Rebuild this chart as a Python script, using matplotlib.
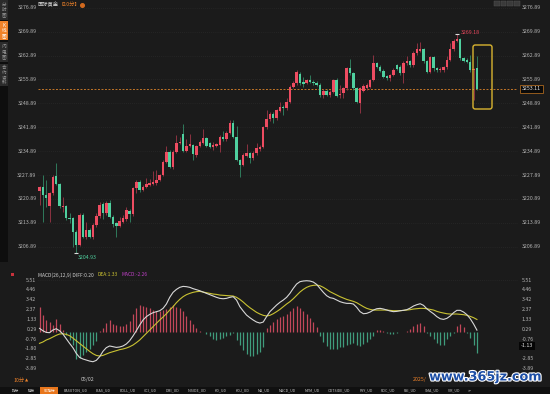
import numpy as np
import matplotlib.pyplot as plt
from matplotlib.patches import Rectangle, FancyBboxPatch
import matplotlib.patheffects as pe

plt.rcParams['font.family'] = ['Noto Sans CJK SC', 'DejaVu Sans']

# ---------- data (10-minute candles) ----------
opens = [3223.3, 3224.4, 3222.0, 3218.8, 3222.5, 3227.6, 3225.2, 3218.4, 3218.8, 3215.4,
         3215.2, 3211.3, 3207.4, 3216.2, 3209.6, 3211.8, 3209.6, 3213.2, 3215.9, 3219.4,
         3216.8, 3219.8, 3215.7, 3213.7, 3212.96, 3214.0, 3214.9, 3217.4, 3216.5, 3224.0,
         3225.9, 3223.5, 3224.5, 3224.96, 3225.3, 3225.45, 3226.4, 3227.9, 3231.8, 3234.7,
         3230.1, 3234.7, 3237.2, 3239.9, 3235.0, 3236.4, 3236.7, 3233.7, 3236.4, 3237.2,
         3238.6, 3237.2, 3236.2, 3236.4, 3236.7, 3239.1, 3238.3, 3240.3, 3243.0, 3239.1,
         3232.3, 3230.8, 3233.5, 3234.2, 3232.8, 3234.2, 3235.4, 3236.2, 3241.9, 3244.2,
         3245.8, 3244.5, 3246.7, 3247.9, 3247.4, 3249.4, 3253.8, 3254.7, 3257.5, 3255.2,
         3254.9, 3255.7, 3255.2, 3254.9, 3254.3, 3251.3, 3252.6, 3251.3, 3252.3, 3255.7,
         3251.2, 3251.8, 3253.3, 3259.1, 3257.7, 3253.3, 3248.9, 3252.6, 3253.3, 3253.8,
         3255.7, 3260.6, 3259.6, 3258.4, 3256.9, 3256.2, 3257.2, 3260.0, 3259.6, 3257.7,
         3260.6, 3261.3, 3260.0, 3263.5, 3264.3, 3264.7, 3261.2, 3258.2, 3262.4, 3259.1,
         3258.5, 3258.6, 3259.4, 3261.6, 3264.7, 3267.2, 3267.6, 3262.1, 3261.7, 3261.1,
         3258.5, 3259.1]
highs = [3224.6, 3227.9, 3226.4, 3223.0, 3227.9, 3231.3, 3225.6, 3221.5, 3219.1, 3216.7,
         3215.6, 3211.8, 3216.7, 3216.9, 3214.2, 3212.3, 3213.7, 3216.9, 3220.1, 3220.0,
         3220.3, 3220.6, 3216.2, 3214.0, 3215.7, 3216.2, 3218.6, 3217.8, 3224.4, 3226.3,
         3226.3, 3225.0, 3226.9, 3226.6, 3229.2, 3229.4, 3228.3, 3232.2, 3236.4, 3235.1,
         3235.1, 3239.6, 3239.1, 3242.8, 3238.3, 3239.9, 3237.1, 3236.8, 3238.0, 3241.3,
         3239.0, 3237.6, 3237.7, 3237.3, 3239.5, 3240.9, 3240.7, 3244.0, 3244.0, 3242.2,
         3232.7, 3234.2, 3237.0, 3234.6, 3234.8, 3237.2, 3236.6, 3242.3, 3246.9, 3246.2,
         3246.2, 3247.3, 3249.4, 3248.3, 3250.3, 3254.2, 3255.3, 3258.6, 3258.2, 3256.7,
         3256.1, 3257.2, 3255.6, 3255.3, 3254.7, 3253.0, 3253.0, 3252.7, 3256.1, 3256.2,
         3254.3, 3253.7, 3259.5, 3261.8, 3258.1, 3253.7, 3253.7, 3254.4, 3254.7, 3256.1,
         3263.0, 3261.1, 3260.0, 3258.8, 3257.3, 3257.6, 3259.1, 3260.4, 3260.0, 3261.2,
         3262.6, 3261.7, 3264.1, 3266.5, 3266.7, 3265.1, 3261.6, 3262.8, 3262.8, 3259.5,
         3259.4, 3259.8, 3262.6, 3266.5, 3267.6, 3269.18, 3268.0, 3262.5, 3262.1, 3263.0,
         3259.3, 3262.6]
lows = [3219.0, 3214.2, 3218.6, 3214.2, 3222.0, 3225.0, 3218.3, 3217.1, 3214.7, 3213.7,
        3206.9, 3204.93, 3207.0, 3209.3, 3209.2, 3209.4, 3209.2, 3212.8, 3215.4, 3214.9,
        3216.2, 3215.2, 3212.8, 3209.8, 3212.6, 3213.7, 3214.5, 3214.2, 3216.0, 3222.7,
        3223.0, 3223.1, 3224.2, 3224.6, 3225.0, 3225.1, 3226.0, 3227.5, 3231.4, 3229.9,
        3229.7, 3234.3, 3236.9, 3234.6, 3234.7, 3236.1, 3232.3, 3233.3, 3236.1, 3236.9,
        3236.0, 3235.8, 3235.2, 3236.0, 3234.7, 3237.9, 3237.9, 3239.9, 3238.7, 3231.9,
        3227.4, 3230.4, 3233.1, 3231.5, 3232.4, 3233.8, 3235.0, 3235.8, 3241.5, 3243.8,
        3243.2, 3244.1, 3246.3, 3245.5, 3247.0, 3249.0, 3253.4, 3254.3, 3254.3, 3253.8,
        3254.5, 3254.8, 3254.3, 3253.9, 3250.8, 3250.4, 3250.9, 3250.6, 3251.9, 3250.6,
        3250.4, 3250.4, 3252.9, 3257.3, 3252.9, 3248.9, 3246.0, 3252.2, 3252.9, 3253.4,
        3255.3, 3259.2, 3258.0, 3256.3, 3255.8, 3255.4, 3256.8, 3258.6, 3257.3, 3254.8,
        3260.2, 3259.6, 3259.6, 3263.1, 3263.9, 3260.8, 3257.8, 3257.8, 3258.3, 3258.1,
        3258.1, 3258.2, 3259.0, 3261.2, 3264.3, 3266.8, 3261.7, 3261.0, 3260.7, 3258.1,
        3249.9, 3252.8]
closes = [3224.3, 3222.0, 3221.3, 3222.5, 3227.4, 3225.4, 3218.8, 3218.8, 3215.2, 3214.9,
          3211.3, 3207.4, 3216.2, 3209.8, 3211.8, 3209.8, 3213.2, 3215.9, 3219.1, 3216.8,
          3219.8, 3215.7, 3213.6, 3212.96, 3214.4, 3215.2, 3217.6, 3216.5, 3224.0, 3225.9,
          3223.5, 3224.5, 3225.2, 3225.45, 3225.7, 3226.4, 3227.9, 3231.8, 3234.7, 3230.3,
          3234.7, 3237.2, 3237.7, 3235.0, 3236.4, 3237.0, 3234.1, 3236.4, 3237.6, 3238.6,
          3236.4, 3236.2, 3236.7, 3236.9, 3239.1, 3238.3, 3240.3, 3243.0, 3239.1, 3232.3,
          3230.8, 3233.8, 3234.2, 3232.8, 3234.4, 3235.7, 3236.2, 3241.9, 3244.2, 3245.8,
          3244.5, 3246.9, 3247.7, 3247.4, 3249.4, 3253.8, 3254.9, 3258.1, 3254.7, 3254.6,
          3255.7, 3255.2, 3254.7, 3254.3, 3251.3, 3252.6, 3251.3, 3252.3, 3255.7, 3251.0,
          3251.6, 3253.3, 3259.1, 3257.7, 3253.3, 3249.4, 3253.3, 3254.0, 3254.3, 3255.7,
          3260.6, 3259.6, 3258.4, 3256.7, 3256.2, 3257.2, 3258.7, 3259.0, 3257.7, 3260.8,
          3261.3, 3260.0, 3263.7, 3264.7, 3264.8, 3261.2, 3258.2, 3262.4, 3259.1, 3258.5,
          3259.0, 3259.4, 3261.6, 3264.7, 3267.2, 3267.6, 3262.1, 3261.4, 3261.1, 3258.5,
          3258.9, 3253.11]

dif = [0.39, 0.14, -0.04, -0.07, 0.21, 0.35, 0.14, -0.21, -0.71, -1.20,
       -1.66, -2.26, -2.69, -2.86, -2.97, -3.08, -3.15, -3.01, -2.62, -2.05,
       -1.66, -1.48, -1.56, -1.63, -1.59, -1.48, -1.27, -0.92, -0.42, 0.14,
       0.74, 1.27, 1.63, 1.87, 2.05, 2.16, 2.26, 2.51, 2.97, 3.68,
       4.21, 4.52, 4.74, 4.84, 4.81, 4.74, 4.60, 4.49, 4.38, 4.24,
       4.10, 3.96, 3.82, 3.68, 3.57, 3.53, 3.57, 3.68, 3.75, 3.39,
       2.69, 2.23, 1.80, 1.52, 1.27, 1.06, 0.95, 1.06, 1.63, 2.16,
       2.51, 2.86, 3.15, 3.39, 3.68, 4.10, 4.63, 5.09, 5.34, 5.41,
       5.44, 5.41, 5.30, 5.05, 4.63, 4.21, 3.85, 3.64, 3.57, 3.39,
       3.22, 3.11, 3.04, 3.04, 2.97, 2.62, 2.16, 1.94, 1.98, 2.12,
       2.33, 2.47, 2.51, 2.44, 2.33, 2.23, 2.16, 2.19, 2.26, 2.30,
       2.37, 2.54, 2.76, 2.90, 3.00, 2.83, 2.47, 2.19, 1.94, 1.63,
       1.41, 1.34, 1.45, 1.70, 2.05, 2.30, 2.30, 2.12, 1.84, 1.41,
       0.85, 0.20]
dea = [-1.20, -1.06, -0.85, -0.71, -0.53, -0.35, -0.21, -0.18, -0.25, -0.39,
       -0.64, -0.92, -1.20, -1.48, -1.77, -2.05, -2.30, -2.48, -2.55, -2.48,
       -2.33, -2.19, -2.09, -1.98, -1.87, -1.80, -1.70, -1.56, -1.38, -1.13,
       -0.85, -0.50, -0.14, 0.21, 0.57, 0.92, 1.27, 1.59, 1.94, 2.33,
       2.69, 3.11, 3.46, 3.75, 3.96, 4.10, 4.21, 4.28, 4.31, 4.24,
       4.17, 4.10, 4.03, 3.99, 3.92, 3.89, 3.85, 3.84, 3.82, 3.68,
       3.46, 3.18, 2.86, 2.58, 2.33, 2.09, 1.91, 1.77, 1.70, 1.77,
       1.94, 2.16, 2.40, 2.69, 2.97, 3.22, 3.53, 3.89, 4.24, 4.52,
       4.74, 4.88, 4.95, 4.98, 4.91, 4.74, 4.52, 4.28, 4.10, 3.92,
       3.75, 3.60, 3.46, 3.36, 3.25, 3.11, 2.90, 2.69, 2.51, 2.40,
       2.33, 2.33, 2.33, 2.33, 2.33, 2.30, 2.26, 2.26, 2.26, 2.30,
       2.33, 2.37, 2.44, 2.47, 2.51, 2.51, 2.47, 2.40, 2.33, 2.19,
       2.09, 2.01, 1.94, 1.91, 1.91, 1.91, 1.87, 1.84, 1.77, 1.66,
       1.52, 1.33]
macd_hist = [2.70, 1.85, 1.25, 1.05, 0.70, 1.40, 0.85, 0.20, -0.35, -0.80,
             -1.40, -2.90, -2.75, -2.45, -2.10, -1.75, -1.40, -0.90, 0.10, 0.45,
             0.95, 1.30, 0.90, 0.70, 0.60, 0.65, 0.90, 1.20, 1.90, 2.50,
             2.90, 2.80, 2.70, 2.50, 2.35, 2.25, 2.20, 2.35, 2.45, 2.70,
             2.85, 2.70, 2.55, 2.20, 1.70, 1.30, 0.80, 0.45, 0.15, 0.05,
             -0.25, -0.45, -0.70, -0.80, -0.75, -0.60, -0.45, -0.30, -0.15, -0.85,
             -1.40, -1.90, -2.30, -2.55, -2.50, -2.35, -2.10, -1.60, 0.40, 0.75,
             1.10, 1.35, 1.55, 1.70, 1.95, 2.25, 2.55, 2.75, 2.55, 2.25,
             1.95, 1.50, 1.05, 0.50, -0.45, -1.10, -1.50, -1.75, -1.85, -1.75,
             -1.60, -1.55, -1.40, -1.25, -1.20, -1.35, -1.45, -1.30, -1.05, -0.75,
             -0.40, 0.20, 0.25, 0.10, -0.10, -0.20, -0.25, -0.15, -0.05, 0.05,
             0.10, 0.34, 0.64, 0.86, 0.98, 0.64, -0.10, -0.42, -0.78, -1.12,
             -1.36, -1.34, -0.78, -0.40, -0.10, 0.60, 0.85, 0.55, -0.15, -0.60,
             -1.35, -2.26]

price_ticks = [3276.89, 3269.89, 3262.89, 3255.89, 3248.89, 3241.89,
               3234.89, 3227.89, 3220.89, 3213.89, 3206.89]
macd_ticks = [5.51, 4.46, 3.42, 2.37, 1.33, 0.29, -0.76, -1.80, -2.85, -3.89]
last_price = 3253.11
macd_cursor = "-1.13"
side_tabs = ["分时图", "K线图", "闪电图", "合约资料"]
tool_tabs = ["指标", "模板", "YD指标", "BASUTON_UD", "BIAS_UD", "BOLL_UD", "CCI_UD",
             "DMI_UD", "INSIDE_UD", "KD_UD", "KDJ_UD", "MA_UD", "MACD_UD", "MTM_UD",
             "OUTSIDE_UD", "PSY_UD", "ROC_UD", "RSI_UD", "SMA_UD", "VR_UD", ">>"]

# ---------- style ----------
W, H = 550, 394
BG = "#1b1b1b"
UP, DOWN = "#ee4c61", "#4fd09f"
UP_WICK, DOWN_WICK = "#8c3241", "#2f7a5c"
LBL = "#b4b4b4"
ORANGE = "#f0832a"
GRID = "#2e2e2e"

fig = plt.figure(figsize=(W / 100, H / 100), dpi=100, facecolor=BG)

def px_axes(x0, y0, x1, y1, z):
    return fig.add_axes([x0 / W, 1 - y1 / H, (x1 - x0) / W, (y1 - y0) / H], zorder=z)

back = px_axes(0, 0, W, H, 0)
back.set_xlim(0, W); back.set_ylim(H, 0); back.axis("off")
front = px_axes(0, 0, W, H, 6)
front.set_xlim(0, W); front.set_ylim(H, 0); front.axis("off")
front.patch.set_alpha(0)

# sidebar tabs
back.add_patch(Rectangle((0, 0), 8, 262, color="#0e0e0e", lw=0))
tab_spans = [(0, 19.5), (21, 40), (42, 62), (64, 86)]
for i, (name, (t0, t1)) in enumerate(zip(side_tabs, tab_spans)):
    active = i == 1
    back.add_patch(Rectangle((0, t0), 7.5, t1 - t0, color=ORANGE if active else "#2b2b2b", lw=0))
    back.text(3.8, (t0 + t1) / 2, "\n".join(name), ha="center", va="center",
              fontsize=3.3, linespacing=1.05, color="white" if active else "#9a9a9a")

# title
front.text(38, 4.6, "国际黄金", fontsize=3.8, color="#d6d6d6", va="center")
front.text(58.5, 4.6, "【10分】", fontsize=3.8, color=ORANGE, va="center")
front.plot([81.5], [4.8], "o", color="#d2691e", ms=2.6)
for k in range(4):
    front.add_patch(Rectangle((494 + k * 6.7, 0.5), 5.5, 5.5, fc="#3a3a3a", ec="#555555", lw=0.3))

# ---------- price panel ----------
ax = px_axes(38, 2, 518, 262, 2)
ax.patch.set_alpha(0)
n = len(closes)
x = np.arange(n)
o, h, l, c = map(np.array, (opens, highs, lows, closes))
up = c >= o
for t in price_ticks:
    ax.axhline(t, color=GRID, lw=0.5, ls=(0, (1, 2)), zorder=0)
ax.vlines(x, l, h, colors=np.where(up, UP_WICK, DOWN_WICK), lw=0.7, zorder=2)
ax.bar(x, np.maximum(np.abs(c - o), 0.3), 0.74, np.minimum(o, c),
       color=np.where(up, UP, DOWN), lw=0, zorder=3)
ax.axhline(last_price, color="#c27528", lw=0.7, ls=(0, (2, 1.6)), zorder=1)
ax.set_xlim(-0.45, 143.3)
ax.set_ylim(3202.41, 3278.56)
ax.axis("off")

ytr = ax.get_yaxis_transform()
for t in price_ticks:
    ax.text(-0.003, t, f"{t:.2f}", transform=ytr, ha="right", va="center", fontsize=3.8, color=LBL)
    ax.text(1.008, t, f"{t:.2f}", transform=ytr, ha="left", va="center", fontsize=3.8, color=LBL)
ax.text(1.008, last_price, f"{last_price:.2f}", transform=ytr, ha="left", va="center",
        fontsize=3.8, color="#e6e6e6", zorder=5,
        bbox=dict(boxstyle="square,pad=0.3", fc="#0a0a0a", ec="#a8661f", lw=0.6))

ih, il = int(np.argmax(h)), int(np.argmin(l))
ax.plot([ih], [h[ih]], marker="_", color="#dddddd", ms=2.5, mew=0.8, zorder=4)
ax.plot([il], [l[il]], marker="_", color="#dddddd", ms=2.5, mew=0.8, zorder=4)
ax.annotate(f"{h[ih]:.2f}", (ih, h[ih]), xytext=(2.6, 1.4), textcoords="offset points",
            fontsize=3.8, color="#e8475c", ha="left", va="center")
ax.annotate(f"{l[il]:.2f}", (il, l[il]), xytext=(1.3, -2.6), textcoords="offset points",
            fontsize=3.8, color="#4fd09f", ha="left", va="center")

# highlight box round the last candles
front.add_patch(FancyBboxPatch((473, 45), 19, 64, boxstyle="round,pad=0,rounding_size=2.2",
                               fc="none", ec="#d9b430", lw=1.0))

# ---------- MACD panel ----------
ax2 = px_axes(38, 278, 518, 372, 2)
ax2.patch.set_alpha(0)
mh = np.array(macd_hist)
ax2.axhline(macd_ticks[0], color=GRID, lw=0.5, ls=(0, (1, 2)), zorder=0)
ax2.vlines(x, 0, mh, colors=np.where(mh >= 0, "#c2475a", "#3f9c7c"), lw=0.9, zorder=2)
ax2.plot(x, dea, color="#c9c232", lw=0.8, zorder=3)
ax2.plot(x, dif, color="#d8d8d8", lw=0.8, zorder=4)
ax2.set_xlim(-0.45, 143.3)
ax2.set_ylim(-4.24, 5.73)
ax2.axis("off")
ytr2 = ax2.get_yaxis_transform()
for t in macd_ticks:
    ax2.text(-0.003, t, f"{t:.2f}", transform=ytr2, ha="right", va="center", fontsize=3.8, color=LBL)
    if t != -1.80:
        ax2.text(1.008, t, f"{t:.2f}", transform=ytr2, ha="left", va="center", fontsize=3.8, color=LBL)
ax2.text(1.006, -1.48, macd_cursor, transform=ytr2, ha="left", va="center", fontsize=3.8,
         color="#e6e6e6", bbox=dict(boxstyle="square,pad=0.35", fc="#050505", ec="none"))

back.add_patch(Rectangle((10.5, 272.5), 3, 3, color="#c8323c", lw=0))
hdr = [("MACD(26,12,9) DIFF:%.2f" % dif[-1], "#cfcfcf"), ("DEA:%.2f" % dea[-1], "#d2c832"),
       ("MACD:%.2f" % macd_hist[-1], "#c040c8")]
fig.canvas.draw()
r = fig.canvas.get_renderer()
xx = 38.0
for s, col in hdr:
    t = front.text(xx, 275, s, fontsize=3.5, color=col, va="center")
    xx += t.get_window_extent(r).width + 4

# ---------- bottom strip ----------
front.text(13, 380, "10分", fontsize=3.8, color=ORANGE, va="center")
front.text(24.5, 380, "▲", fontsize=3, color=ORANGE, va="center", family="DejaVu Sans")
front.text(88, 380, "05/02", fontsize=3.8, color="#c8c8c8", va="center", ha="center")
front.text(413, 380, "2025/", fontsize=3.8, color=ORANGE, va="center")

back.add_patch(Rectangle((0, 386.5), W, 8, color="#101010", lw=0))
tab_texts = [front.text(0, 390.5, s, fontsize=2.6, va="center", zorder=3,
                        color="white" if s == "YD指标" else "#c8c8c8") for s in tool_tabs]
widths = [t.get_window_extent(r).width for t in tab_texts]
gap = (472 - 12 - sum(widths)) / (len(tool_tabs) - 1)
xx = 12.0
for s, t, wdt in zip(tool_tabs, tab_texts, widths):
    t.set_x(xx)
    if s == "YD指标":
        back.add_patch(Rectangle((xx - 3, 386.5), wdt + 6, 8, color="#e8761c", lw=0))
    xx += wdt + gap

# watermark
front.text(485, 377, "www.365jz.com", fontsize=9.2, fontweight="bold", color="#1c4ea6",
           ha="center", va="center", family="DejaVu Sans",
           path_effects=[pe.withStroke(linewidth=1.6, foreground="white")])

fig.savefig("out.png", dpi=100, facecolor=BG)
